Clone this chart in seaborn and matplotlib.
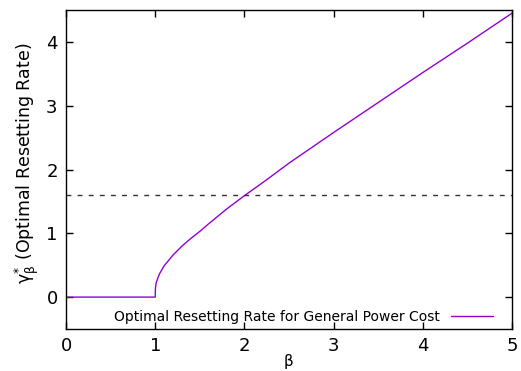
import matplotlib
matplotlib.use("Agg")
import matplotlib.pyplot as plt
import seaborn as sns
import pandas as pd

# values
beta = [0.0, 0.5, 1.0, 1.002, 1.005, 1.01, 1.03, 1.05, 1.1, 1.2, 1.3, 1.4, 1.5,
        1.6, 1.8, 2.0, 2.25, 2.5, 3.0, 3.5, 4.0, 4.5, 5.0]
gamma = [0.0, 0.0, 0.0, 0.12, 0.17, 0.22, 0.30, 0.37, 0.49, 0.66, 0.80, 0.92, 1.03,
         1.15, 1.38, 1.59, 1.84, 2.10, 2.58, 3.05, 3.52, 3.98, 4.45]
threshold = 1.6
series_label = "Optimal Resetting Rate for General Power Cost"
x_ticks = [0, 1, 2, 3, 4, 5]
y_ticks = [0, 1, 2, 3, 4]

df = pd.DataFrame({"beta": beta, "gamma": gamma})

sns.set_theme(style="ticks")
plt.rcParams["font.family"] = ["DejaVu Sans"]
plt.rcParams["mathtext.fontset"] = "dejavusans"
plt.rcParams["text.color"] = "black"
plt.rcParams["axes.labelcolor"] = "black"

fig = plt.figure(figsize=(5.21, 3.71), dpi=100)
ax = fig.add_axes([0.1267, 0.1132, 0.8560, 0.8598])

sns.lineplot(data=df, x="beta", y="gamma", ax=ax, color="#9400D3", linewidth=1.0,
             label=series_label, sort=False)
ax.axhline(threshold, color="#333333", linewidth=1.0, linestyle=(0, (3.5, 4.5)))

ax.set_xlim(0, 5)
ax.set_ylim(-0.5, 4.5)
ax.set_xticks(x_ticks)
ax.set_yticks(y_ticks)
ax.tick_params(direction="in", length=5, width=1, top=True, right=True,
               labelsize=13, colors="black", pad=6)
for s in ax.spines.values():
    s.set_visible(True)
    s.set_color("black")
    s.set_linewidth(1.0)

ax.set_xlabel("β", fontsize=11, color="black")
ax.xaxis.set_label_coords(0.5, -0.078)
ax.set_ylabel(r"$\mathrm{γ}^{*}_{\mathrm{β}}$ (Optimal Resetting Rate)", fontsize=12.5,
              color="black")
ax.yaxis.set_label_coords(-0.056, 0.52)

leg = ax.legend(loc="center right", bbox_to_anchor=(0.958, 0.037), frameon=False,
                markerfirst=False, fontsize=10, handlelength=3.07, borderaxespad=0,
                borderpad=0, handletextpad=0.75)
for t in leg.get_texts():
    t.set_color("black")

fig.savefig("out.png", dpi=100)
